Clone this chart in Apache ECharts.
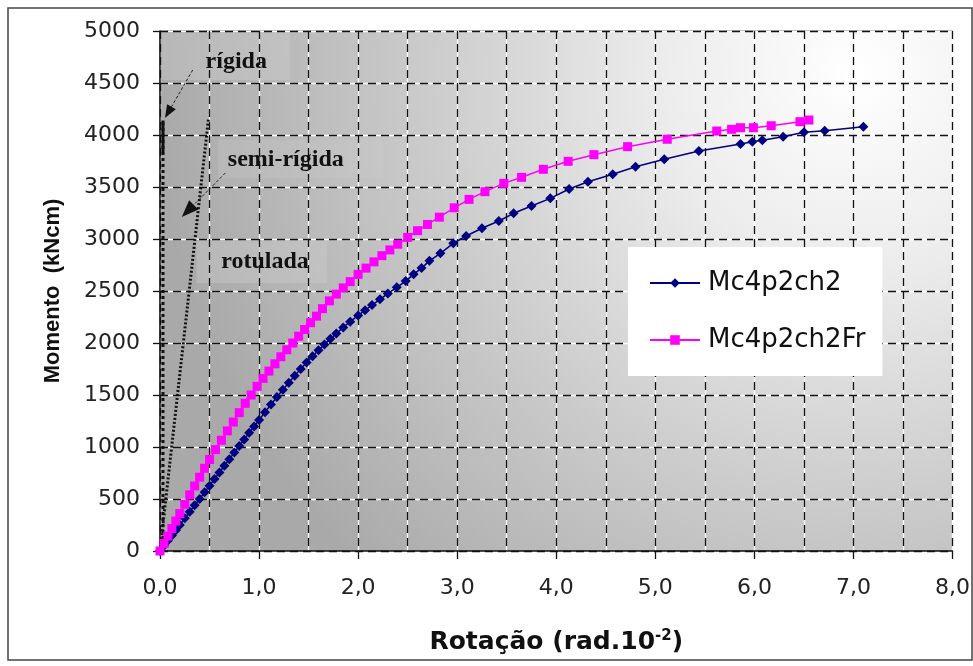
<!DOCTYPE html>
<html>
<head>
<meta charset="utf-8">
<script src="https://cdn.jsdelivr.net/npm/echarts@6/dist/echarts.min.js"></script>
<style>
  html, body { margin: 0; padding: 0; background: #ffffff; }
  #chart { width: 973px; height: 666px; }
</style>
</head>
<body>
<div id="chart"></div>
<script>
// Moment–rotation curves of the connection tests
const seriesNames = ['Mc4p2ch2', 'Mc4p2ch2Fr'];

const rotMc4p2ch2 = [0, 0.04, 0.08, 0.12, 0.16, 0.2, 0.25, 0.3, 0.35, 0.4, 0.45, 0.5,
  0.55, 0.6, 0.65, 0.7, 0.75, 0.8, 0.85, 0.9, 0.95, 1.0, 1.06, 1.12, 1.18, 1.24, 1.3,
  1.36, 1.42, 1.48, 1.54, 1.6, 1.66, 1.72, 1.78, 1.85, 1.92, 2.0, 2.07, 2.14, 2.22, 2.3,
  2.39, 2.48, 2.56, 2.64, 2.72, 2.83, 2.96, 3.09, 3.25, 3.42, 3.57, 3.75, 3.94, 4.13,
  4.32, 4.57, 4.8, 5.09, 5.44, 5.86, 5.98, 6.08, 6.29, 6.5, 6.71, 7.1];
const momMc4p2ch2 = [0, 50, 100, 150, 200, 250, 315, 378, 440, 500, 565, 628,
  692, 755, 820, 883, 946, 1010, 1073, 1136, 1198, 1260, 1335, 1408, 1480, 1550, 1618,
  1685, 1750, 1812, 1872, 1930, 1985, 2040, 2092, 2150, 2205, 2265, 2315, 2365, 2420, 2475,
  2535, 2595, 2660, 2720, 2790, 2862, 2958, 3029, 3103, 3173, 3247, 3317, 3391, 3481,
  3551, 3622, 3695, 3766, 3846, 3913, 3936, 3949, 3984, 4026, 4041, 4080];

const rotMc4p2ch2Fr = [0, 0.04, 0.08, 0.12, 0.16, 0.2, 0.25, 0.3, 0.35, 0.4, 0.45, 0.5,
  0.56, 0.62, 0.68, 0.74, 0.8, 0.86, 0.92, 0.98, 1.04, 1.1, 1.16, 1.22, 1.28, 1.34, 1.4,
  1.46, 1.52, 1.58, 1.64, 1.71, 1.78, 1.85, 1.92, 2.0, 2.08, 2.16, 2.24, 2.32, 2.4, 2.5,
  2.6, 2.7, 2.82, 2.97, 3.12, 3.28, 3.47, 3.65, 3.87, 4.12, 4.38, 4.72, 5.12, 5.62,
  5.77, 5.86, 5.99, 6.17, 6.46, 6.55];
const momMc4p2ch2Fr = [0, 72, 144, 216, 288, 360, 450, 540, 625, 710, 795, 880,
  975, 1065, 1155, 1240, 1330, 1420, 1500, 1583, 1660, 1730, 1800, 1868, 1935, 2000, 2065,
  2130, 2195, 2258, 2330, 2405, 2470, 2530, 2590, 2660, 2720, 2780, 2840, 2895, 2950, 3015,
  3080, 3140, 3210, 3300, 3381, 3455, 3535, 3593, 3670, 3747, 3811, 3888, 3959, 4038,
  4055, 4070, 4070, 4089, 4128, 4144];

// Reference stiffness lines
const rotRigida = [0.03, 0.03];
const momRigida = [0, 4140];
const rotRigidaTop = [0.03, 0.03];
const momRigidaTop = [3830, 4140];
const rotSemiRigida = [0, 0.49];
const momSemiRigida = [0, 4160];

// Axis ranges
const xMin = 0, xMax = 8, xStep = 1;
const yMin = 0, yMax = 5000, yStep = 500;

// Region labels, arrows and their boxes (data coordinates)
const regionLabels = ['rígida', 'semi-rígida', 'rotulada'];
const labelRot = [0.77, 1.27, 1.06];
const labelMom = [4702, 3760, 2779];
const boxRot = [[0.02, 1.31], [0.585, 2.25], [0.37, 1.685]];
const boxMom = [[4990, 4529], [3952, 3587], [2990, 2577]];
const arrowFrom = [[0.33, 4625], [0.66, 3635]];
const arrowTo = [[0.05, 4163], [0.22, 3212]];

const SANS = '"Liberation Sans", Arial, sans-serif';
const WIDE = '"DejaVu Sans", Verdana, sans-serif';
const SERIF = '"Liberation Serif", "Times New Roman", serif';

const zip = (a, b) => a.map((v, i) => [v, b[i]]);
const fmtX = v => v.toFixed(1).replace('.', ',');
const fmtY = v => String(v);

const chart = echarts.init(document.getElementById('chart'), null, { renderer: 'canvas' });

const plotBg = {
  type: 'radial', x: 0.88, y: 0.08, r: 1.35,
  colorStops: [
    { offset: 0, color: '#ffffff' },
    { offset: 0.28, color: '#ececec' },
    { offset: 0.62, color: '#cbcbcb' },
    { offset: 1, color: '#a9a9a9' }
  ]
};

const blackDash = { color: '#111', width: 1.3, type: [8, 5] };
const whiteSolid = { color: '#ffffff', width: 1.3, type: 'solid' };

function valueAxis(isX, black) {
  const ax = {
    type: 'value',
    min: isX ? xMin : yMin,
    max: isX ? xMax : yMax,
    interval: isX ? xStep : yStep,
    z: black ? 3 : 1,
    splitLine: { show: true, lineStyle: black ? blackDash : whiteSolid },
    axisLine: { show: black, onZero: false, lineStyle: { color: '#111', width: 1.5 } },
    axisTick: { show: black, inside: false, length: isX ? 8 : 7, lineStyle: { color: '#111', width: 1.3 } },
    axisLabel: { show: black },
    minorTick: { show: false, splitNumber: 2 },
    minorSplitLine: { show: isX, lineStyle: black ? blackDash : whiteSolid }
  };
  if (black) {
    ax.axisLabel = isX
      ? { show: true, formatter: fmtX, margin: 26, color: '#222', fontFamily: WIDE, fontSize: 22 }
      : { show: true, formatter: fmtY, margin: 20, color: '#222', fontFamily: WIDE, fontSize: 22 };
    if (isX) {
      ax.name = '{b|Rotação (rad.10}{s|-2}{b|)}';
      ax.nameLocation = 'middle';
      ax.nameGap = 78;
      ax.nameTextStyle = {
        rich: {
          b: { fontFamily: WIDE, fontWeight: 'bold', fontSize: 25, color: '#111' },
          s: { fontFamily: WIDE, fontWeight: 'bold', fontSize: 15, color: '#111', padding: [0, 0, 12, 0] }
        }
      };
    } else {
      ax.name = 'Momento  (kNcm)';
      ax.nameLocation = 'middle';
      ax.nameGap = 96;
      ax.nameTextStyle = { fontFamily: SANS, fontWeight: 'bold', fontSize: 22, color: '#111' };
    }
  }
  return ax;
}

const option = {
  animation: false,
  backgroundColor: '#ffffff',
  grid: {
    left: 160, right: 20, top: 31, bottom: 115,
    show: true, backgroundColor: plotBg, borderColor: '#555', borderWidth: 1
  },
  xAxis: [valueAxis(true, true), valueAxis(true, false)],
  yAxis: [valueAxis(false, true), valueAxis(false, false)],
  legend: {
    data: seriesNames,
    orient: 'vertical',
    left: 628, top: 247,
    padding: [22, 17, 22, 21],
    itemGap: 29,
    itemWidth: 50, itemHeight: 12,
    backgroundColor: '#ffffff',
    textStyle: { fontFamily: WIDE, fontSize: 26, color: '#111', lineHeight: 28, padding: [0, 0, 0, 3] }
  },
  series: [
    {
      name: 'rígida', type: 'line', data: zip(rotRigida, momRigida),
      symbol: 'none', z: 4, silent: true,
      lineStyle: { color: '#111', width: 3, type: 'dotted' }
    },
    {
      name: 'rígida-topo', type: 'line', data: zip(rotRigidaTop, momRigidaTop),
      symbol: 'none', z: 4, silent: true,
      lineStyle: { color: '#111', width: 3, type: 'solid' }
    },
    {
      name: 'semi-rígida', type: 'line', data: zip(rotSemiRigida, momSemiRigida),
      symbol: 'none', z: 4, silent: true,
      lineStyle: { color: '#111', width: 3, type: [2, 2] }
    },
    {
      name: seriesNames[0], type: 'line', data: zip(rotMc4p2ch2, momMc4p2ch2),
      symbol: 'diamond', symbolSize: 10, z: 5,
      itemStyle: { color: '#000080' },
      lineStyle: { color: '#000080', width: 1.5 }
    },
    {
      name: seriesNames[1], type: 'line', data: zip(rotMc4p2ch2Fr, momMc4p2ch2Fr),
      symbol: 'rect', symbolSize: 9, z: 6,
      itemStyle: { color: '#ff00ff' },
      lineStyle: { color: '#ff00ff', width: 1.5 }
    }
  ]
};

chart.setOption(option);

// Annotation layer: label boxes, texts and arrows placed through the axes
const px = (x, y) => chart.convertToPixel({ xAxisIndex: 0, yAxisIndex: 0 }, [x, y]);
const graphics = [];

boxRot.forEach((xr, i) => {
  const p1 = px(xr[0], boxMom[i][0]);
  const p2 = px(xr[1], boxMom[i][1]);
  graphics.push({
    type: 'rect', z: 2, silent: true,
    shape: { x: p1[0], y: p1[1], width: p2[0] - p1[0], height: p2[1] - p1[1] },
    style: {
      fill: {
        type: 'linear', x: 0, y: 0, x2: 1, y2: 0,
        colorStops: [
          { offset: 0, color: 'rgba(184,184,184,0.95)' },
          { offset: 1, color: 'rgba(200,200,200,0.55)' }
        ]
      }
    }
  });
});

regionLabels.forEach((t, i) => {
  const p = px(labelRot[i], labelMom[i]);
  graphics.push({
    type: 'text', z: 8, silent: true, x: p[0], y: p[1],
    style: {
      text: t, fill: '#111', font: 'bold 24px ' + SERIF,
      align: 'center', verticalAlign: 'middle'
    }
  });
});

const heads = [[13, 10], [17, 13]];
arrowFrom.forEach((f, i) => {
  const a = px(f[0], f[1]);
  const b = px(arrowTo[i][0], arrowTo[i][1]);
  const dx = b[0] - a[0], dy = b[1] - a[1];
  const len = Math.hypot(dx, dy);
  const ux = dx / len, uy = dy / len;
  const hl = heads[i][0], hw = heads[i][1] / 2;
  const base = [b[0] - ux * hl, b[1] - uy * hl];
  graphics.push({
    type: 'line', z: 8, silent: true,
    shape: { x1: a[0], y1: a[1], x2: base[0], y2: base[1] },
    style: { stroke: '#222', lineWidth: 1, lineDash: [3, 2] }
  });
  graphics.push({
    type: 'polygon', z: 8, silent: true,
    shape: {
      points: [
        b,
        [base[0] - uy * hw, base[1] + ux * hw],
        [base[0] + uy * hw, base[1] - ux * hw]
      ]
    },
    style: { fill: '#111' }
  });
});

// Outer frame of the figure
graphics.push({
  type: 'rect', z: 0, silent: true,
  shape: { x: 8, y: 8, width: 964, height: 652 },
  style: { fill: null, stroke: '#444', lineWidth: 1.5 }
});

chart.setOption({ graphic: graphics });
</script>
</body>
</html>
